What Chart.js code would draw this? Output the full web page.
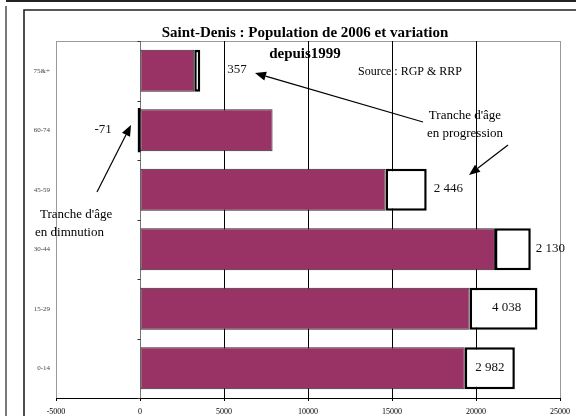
<!DOCTYPE html>
<html>
<head>
<meta charset="utf-8">
<script src="https://cdn.jsdelivr.net/npm/chart.js@4/dist/chart.umd.min.js"></script>
<style>
  html, body { margin: 0; padding: 0; background: #fff; }
  canvas { display: block; }
</style>
</head>
<body>
<canvas id="c" width="576" height="416"></canvas>
<script>
// ---- data ----
const categories = ['75&+', '60-74', '45-59', '30-44', '15-29', '0-14'];
const basePopulation = [3230, 7890, 14620, 21130, 19620, 19330];
const variation = [357, -71, 2446, 2130, 4038, 2982];
const variationLabels = ['357', '-71', '2 446', '2 130', '4 038', '2 982'];
const xTicks = [-5000, 0, 5000, 10000, 15000, 20000, 25000];
const titleLines = ['Saint-Denis : Population de 2006 et variation', 'depuis1999'];
const sourceText = 'Source : RGP & RRP';

const SERIF = '"Liberation Serif", "Times New Roman", serif';

const framePlugin = {
  id: 'frame',
  beforeDraw(chart) {
    const ctx = chart.ctx;
    ctx.save();
    ctx.fillStyle = '#fff';
    ctx.fillRect(0, 0, chart.width, chart.height);
    ctx.strokeStyle = '#222';
    ctx.lineWidth = 2;
    ctx.beginPath(); ctx.moveTo(6, 1); ctx.lineTo(576, 1); ctx.stroke();
    ctx.lineWidth = 1.2;
    ctx.beginPath(); ctx.moveTo(6, 6); ctx.lineTo(6, 416); ctx.stroke();
    ctx.lineWidth = 1.6;
    ctx.beginPath(); ctx.moveTo(24, 416); ctx.lineTo(24, 10); ctx.lineTo(576, 10); ctx.stroke();
    const a = chart.chartArea;
    ctx.strokeStyle = '#999';
    ctx.lineWidth = 1;
    ctx.beginPath(); ctx.moveTo(a.left, a.top + 0.5); ctx.lineTo(a.right, a.top + 0.5); ctx.stroke();
    ctx.restore();
  },
  afterDatasetsDraw(chart) {
    const ctx = chart.ctx;
    const x = chart.scales.x, y = chart.scales.y;
    ctx.save();
    const x0 = Math.round(x.getPixelForValue(0)) + 0.5;
    ctx.strokeStyle = '#333';
    ctx.lineWidth = 1;
    for (let i = 0; i <= categories.length; i++) {
      const py = Math.round(y.getPixelForValue(i - 0.5)) + 0.5;
      ctx.beginPath(); ctx.moveTo(x0 - 3, py); ctx.lineTo(x0, py); ctx.stroke();
    }
    const meta = chart.getDatasetMeta(1);
    ctx.fillStyle = '#111';
    ctx.font = '13px ' + SERIF;
    ctx.textBaseline = 'middle';
    meta.data.forEach((bar, i) => {
      const left = Math.min(bar.x, bar.base), right = Math.max(bar.x, bar.base);
      const cy = bar.y - 1;
      const txt = variationLabels[i];
      if (i === 0) { ctx.textAlign = 'left'; ctx.fillText(txt, right + 27, cy); }
      else if (i === 1) { ctx.textAlign = 'right'; ctx.fillText(txt, left - 27, cy); }
      else if (i === 2) { ctx.textAlign = 'left'; ctx.fillText(txt, right + 7, cy); }
      else if (i === 3) { ctx.textAlign = 'left'; ctx.fillText(txt, right + 5, cy); }
      else { ctx.textAlign = 'center'; ctx.fillText(txt, (left + right) / 2 + (i === 4 ? 3 : 0), cy); }
    });
    ctx.restore();
  },
  afterDraw(chart) {
    const ctx = chart.ctx;
    ctx.save();
    ctx.fillStyle = '#000';
    ctx.textBaseline = 'middle';
    ctx.textAlign = 'center';
    ctx.font = 'bold 15px ' + SERIF;
    ctx.fillText(titleLines[0], 305, 33);
    ctx.fillText(titleLines[1], 305, 54);
    ctx.font = '12px ' + SERIF;
    ctx.textAlign = 'left';
    ctx.fillText(sourceText, 358, 72);
    ctx.font = '13px ' + SERIF;
    ctx.textAlign = 'center';
    ctx.fillText("Tranche d'âge", 465, 116);
    ctx.fillText('en progression', 465, 134);
    ctx.textAlign = 'left';
    ctx.fillText("Tranche d'âge", 40, 215);
    ctx.fillText('en dimnution', 35, 233);
    function arrow(x1, y1, x2, y2) {
      const ang = Math.atan2(y2 - y1, x2 - x1);
      const L = 11, W = 4.5;
      const bx = x2 - L * Math.cos(ang), by = y2 - L * Math.sin(ang);
      ctx.strokeStyle = '#000';
      ctx.lineWidth = 1.2;
      ctx.beginPath(); ctx.moveTo(x1, y1); ctx.lineTo(bx, by); ctx.stroke();
      ctx.fillStyle = '#000';
      ctx.beginPath();
      ctx.moveTo(x2, y2);
      ctx.lineTo(bx + W * Math.sin(ang), by - W * Math.cos(ang));
      ctx.lineTo(bx - W * Math.sin(ang), by + W * Math.cos(ang));
      ctx.closePath(); ctx.fill();
    }
    arrow(423, 122, 255, 73);
    arrow(508, 145, 469, 175);
    arrow(97, 192, 131, 125);
    ctx.restore();
  }
};

new Chart(document.getElementById('c'), {
  type: 'bar',
  data: {
    labels: categories,
    datasets: [
      {
        label: 'Population',
        data: basePopulation,
        backgroundColor: '#993366',
        borderColor: '#2a2a2a',
        borderWidth: 1,
        borderSkipped: false,
        barPercentage: 0.71,
        categoryPercentage: 1
      },
      {
        label: 'Variation',
        data: variation,
        backgroundColor: c => (c.raw < 0 ? '#000000' : '#ffffff'),
        borderColor: '#000000',
        borderWidth: 2.5,
        borderSkipped: false,
        inflateAmount: c => (c.raw < 0 ? 1.2 : 'auto'),
        barPercentage: 0.71,
        categoryPercentage: 1
      }
    ]
  },
  options: {
    indexAxis: 'y',
    responsive: false,
    animation: false,
    devicePixelRatio: 1,
    layout: { padding: { top: 41, right: 13, left: 0, bottom: 0 } },
    plugins: { legend: { display: false }, tooltip: { enabled: false }, title: { display: false } },
    scales: {
      x: {
        type: 'linear',
        stacked: true,
        min: xTicks[0],
        max: xTicks[xTicks.length - 1],
        afterBuildTicks(scale) { scale.ticks = xTicks.map(v => ({ value: v })); },
        afterFit(scale) { scale.height = 18; },
        ticks: {
          callback: v => String(v),
          font: { family: SERIF, size: 8 },
          color: '#000',
          padding: 6,
          maxRotation: 0,
          autoSkip: false
        },
        grid: {
          color: ctx => {
            const v = ctx.tick && ctx.tick.value;
            if (v === 0) return '#777';
            if (v === xTicks[0] || v === xTicks[xTicks.length - 1]) return '#999';
            return '#000';
          },
          lineWidth: 1,
          drawTicks: true,
          tickLength: 3,
          tickColor: '#000'
        },
        border: { display: true, color: '#000', width: 1 }
      },
      y: {
        type: 'category',
        stacked: true,
        afterFit(scale) { scale.width = 56; },
        ticks: {
          font: { family: SERIF, size: 7 },
          color: '#444',
          padding: 6
        },
        grid: { display: false, drawTicks: false },
        border: { display: false }
      }
    }
  },
  plugins: [framePlugin]
});
</script>
</body>
</html>
